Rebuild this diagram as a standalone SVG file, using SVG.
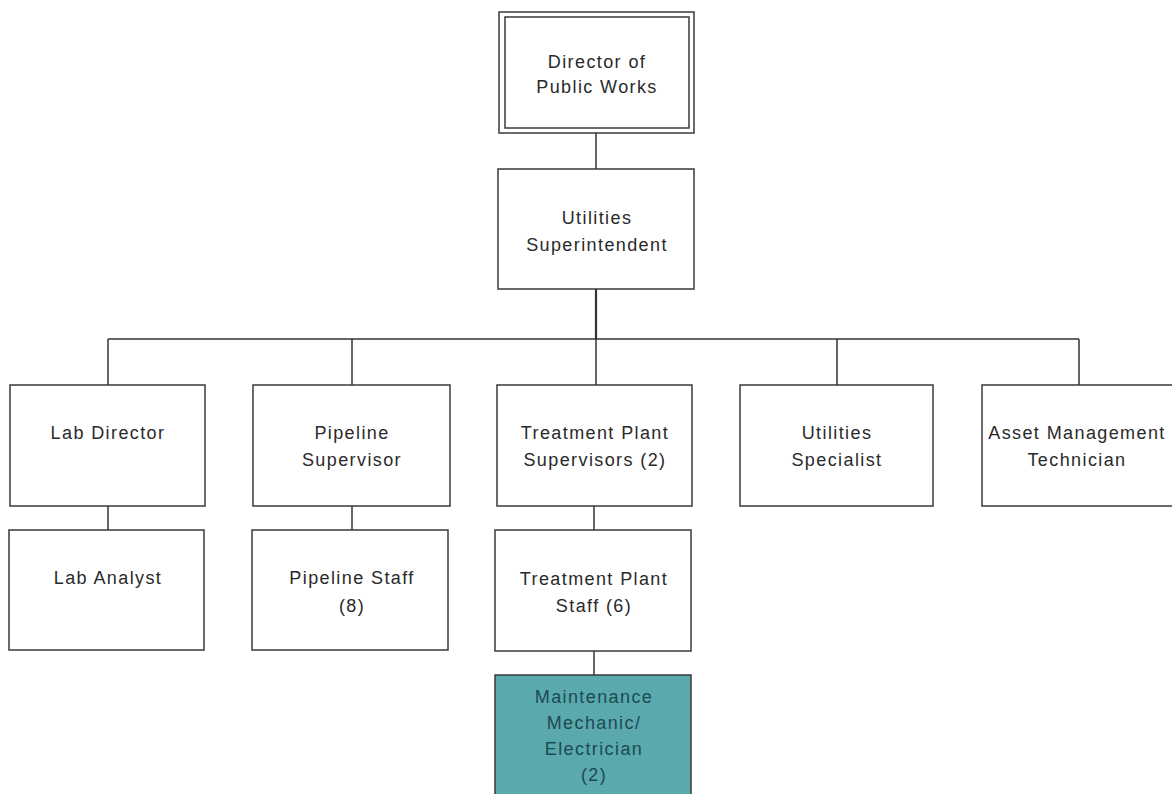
<svg xmlns="http://www.w3.org/2000/svg" width="1172" height="794" viewBox="0 0 1172 794">
<style>
.box{fill:#ffffff;stroke:#3a3a3a;stroke-width:1.5}
.teal{fill:#5aa9ad;stroke:#3a3a3a;stroke-width:1.5}
.lbl{font-family:"Liberation Sans",Arial,sans-serif;font-size:18px;letter-spacing:1.4px;fill:#2a2a2a;text-anchor:middle}
.tl{fill:#1d4a52}
.conn{stroke:#333;stroke-width:1.5;fill:none}
</style>
<rect width="1172" height="794" fill="#ffffff"/>
<g id="connectors">
<line class="conn" x1="596" y1="133" x2="596" y2="169"/>
<line class="conn" x1="596" y1="289" x2="596" y2="339" style="stroke-width:2.2"/>
<line class="conn" x1="108" y1="339" x2="1079" y2="339"/>
<line class="conn" x1="108" y1="339" x2="108" y2="385"/>
<line class="conn" x1="352" y1="339" x2="352" y2="385"/>
<line class="conn" x1="596" y1="339" x2="596" y2="385"/>
<line class="conn" x1="837" y1="339" x2="837" y2="385"/>
<line class="conn" x1="1079" y1="339" x2="1079" y2="385"/>
<line class="conn" x1="108" y1="506" x2="108" y2="530"/>
<line class="conn" x1="352" y1="506" x2="352" y2="530"/>
<line class="conn" x1="594" y1="506" x2="594" y2="530"/>
<line class="conn" x1="594" y1="651" x2="594" y2="675"/>
</g>
<g id="director">
<rect class="box" x="499" y="12" width="195" height="121"/>
<rect class="box" x="505" y="17" width="184" height="111"/>
<text class="lbl" x="597" y="68">Director of</text>
<text class="lbl" x="597" y="93">Public Works</text>
</g>
<g id="superintendent">
<rect class="box" x="498" y="169" width="196" height="120"/>
<text class="lbl" x="597" y="224">Utilities</text>
<text class="lbl" x="597" y="251">Superintendent</text>
</g>
<g id="lab-director">
<rect class="box" x="10" y="385" width="195" height="121"/>
<text class="lbl" x="108" y="439">Lab Director</text>
</g>
<g id="pipeline-supervisor">
<rect class="box" x="253" y="385" width="197" height="121"/>
<text class="lbl" x="352" y="439">Pipeline</text>
<text class="lbl" x="352" y="466">Supervisor</text>
</g>
<g id="tp-supervisors">
<rect class="box" x="497" y="385" width="195" height="121"/>
<text class="lbl" x="595" y="439">Treatment Plant</text>
<text class="lbl" x="595" y="466">Supervisors (2)</text>
</g>
<g id="utilities-specialist">
<rect class="box" x="740" y="385" width="193" height="121"/>
<text class="lbl" x="837" y="439">Utilities</text>
<text class="lbl" x="837" y="466">Specialist</text>
</g>
<g id="asset-management">
<rect class="box" x="982" y="385" width="195" height="121"/>
<text class="lbl" x="1077" y="439">Asset Management</text>
<text class="lbl" x="1077" y="466">Technician</text>
</g>
<g id="lab-analyst">
<rect class="box" x="9" y="530" width="195" height="120"/>
<text class="lbl" x="108" y="584">Lab Analyst</text>
</g>
<g id="pipeline-staff">
<rect class="box" x="252" y="530" width="196" height="120"/>
<text class="lbl" x="352" y="584">Pipeline Staff</text>
<text class="lbl" x="352" y="612">(8)</text>
</g>
<g id="tp-staff">
<rect class="box" x="495" y="530" width="196" height="121"/>
<text class="lbl" x="594" y="585">Treatment Plant</text>
<text class="lbl" x="594" y="612">Staff (6)</text>
</g>
<g id="maintenance">
<rect class="teal" x="495" y="675" width="196" height="125"/>
<text class="lbl tl" x="594" y="703">Maintenance</text>
<text class="lbl tl" x="594" y="729">Mechanic/</text>
<text class="lbl tl" x="594" y="755">Electrician</text>
<text class="lbl tl" x="594" y="781">(2)</text>
</g>
</svg>
